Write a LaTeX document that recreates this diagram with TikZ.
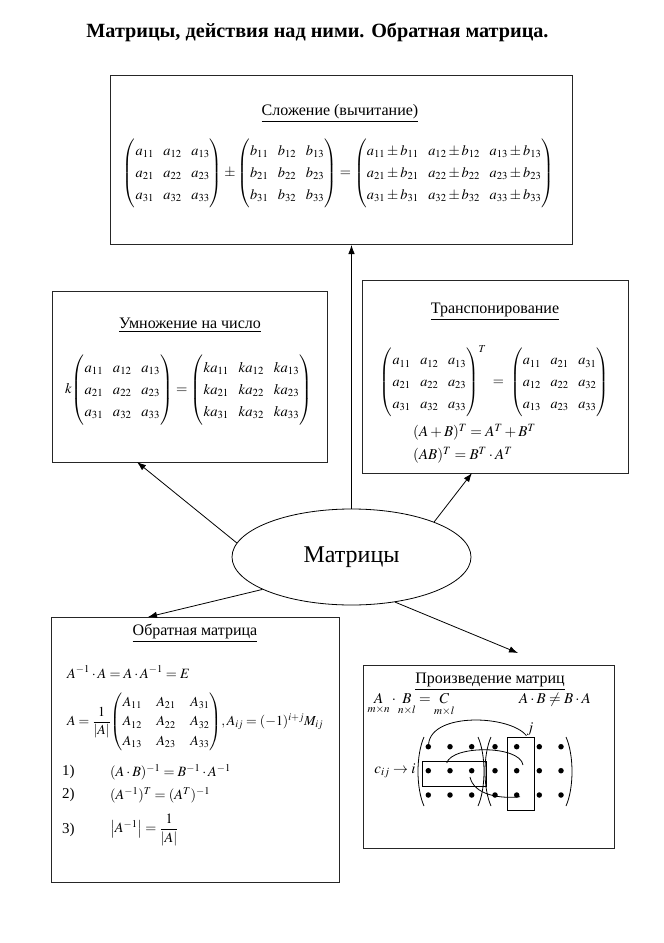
\documentclass[tikz,border=0pt]{standalone}
\usepackage{amsmath}
\usepackage{graphicx}
\usepackage{mathptmx}
\usepackage[no-math]{fontspec}
\setmainfont{Liberation Serif}
\usetikzlibrary{arrows.meta,shapes.geometric}
\newcommand{\matset}{\setlength{\arraycolsep}{5pt}\renewcommand{\arraystretch}{1.27}}
\newcommand{\matsetB}{\setlength{\arraycolsep}{8pt}\renewcommand{\arraystretch}{1.2}}
\begin{document}
\begin{tikzpicture}[x=1pt,y=-1pt,
  box/.style={draw=black!85, line width=1.1pt, inner sep=0pt, anchor=north west},
  arr/.style={-{Latex[length=9pt,width=6.5pt]}, line width=0.8pt},
  hd/.style={font=\fontsize{16}{19}\selectfont, inner sep=0pt},
  tx/.style={font=\fontsize{15}{18}\selectfont, inner sep=0pt},
  txs/.style={font=\fontsize{14.2}{17}\selectfont, inner sep=0pt},
  dot/.style={circle, fill=black, inner sep=0pt, minimum size=5.5pt},
  thin/.style={line width=0.8pt}]
\useasboundingbox (0,0) rectangle (664,943);
\fill[white] (0,0) rectangle (664,943);

\node[font=\bfseries\fontsize{20.2}{24}\selectfont, inner sep=0pt] (title) at (317.5,32) {Матрицы, действия над ними. Обратная матрица.};

% boxes
\node[box, minimum width=462pt, minimum height=169pt] (add) at (110,75) {};
\node[box, minimum width=275pt, minimum height=171pt] (mul) at (52,291) {};
\node[box, minimum width=266pt, minimum height=193pt] (tr) at (362,280) {};
\node[box, minimum width=288pt, minimum height=265pt] (inv) at (51,617) {};
\node[box, minimum width=251pt, minimum height=183pt] (prod) at (363,665) {};

% ellipse
\node[ellipse, draw, line width=0.8pt, minimum width=239pt, minimum height=96pt, inner sep=0pt,
  font=\fontsize{24}{28}\selectfont] (mat) at (351.5,557) {Матрицы};

% arrows
\coordinate (tAdd) at (351.5,245);
\coordinate (tMul) at (137,462);
\coordinate (tTr) at (472,473);
\coordinate (tInv) at (148,617);
\coordinate (tProd) at (518,653);
\draw[arr] (mat.north) -- (tAdd);
\draw[arr] (mat.173) -- (tMul);
\draw[arr] (mat.23) -- (tTr);
\draw[arr] (mat.200) -- (tInv);
\draw[arr] (mat.314) -- (tProd);

% addition
\node[hd] (addh) at (340,113) {\underline{Сложение (вычитание)}};
\node[tx] (addf) at (338.5,173) {\resizebox{431pt}{!}{\matset$\begin{pmatrix}a_{11}&a_{12}&a_{13}\\a_{21}&a_{22}&a_{23}\\a_{31}&a_{32}&a_{33}\end{pmatrix}\pm
\begin{pmatrix}b_{11}&b_{12}&b_{13}\\b_{21}&b_{22}&b_{23}\\b_{31}&b_{32}&b_{33}\end{pmatrix}=
\begin{pmatrix}a_{11}\pm b_{11}&a_{12}\pm b_{12}&a_{13}\pm b_{13}\\a_{21}\pm b_{21}&a_{22}\pm b_{22}&a_{23}\pm b_{23}\\a_{31}\pm b_{31}&a_{32}\pm b_{32}&a_{33}\pm b_{33}\end{pmatrix}$}};

% multiplication by number
\node[hd] (mulh) at (190,325) {\underline{Умножение на число}};
\node[tx] (mulf) at (188.5,390) {\resizebox{247pt}{!}{\matset$k\!\begin{pmatrix}a_{11}&a_{12}&a_{13}\\a_{21}&a_{22}&a_{23}\\a_{31}&a_{32}&a_{33}\end{pmatrix}=
\begin{pmatrix}ka_{11}&ka_{12}&ka_{13}\\ka_{21}&ka_{22}&ka_{23}\\ka_{31}&ka_{32}&ka_{33}\end{pmatrix}$}};

% transposition
\node[hd] (trh) at (495,312) {\underline{Транспонирование}};
\node[tx] (trf) at (494.5,381) {\resizebox{229pt}{!}{\matset$\begin{pmatrix}a_{11}&a_{12}&a_{13}\\a_{21}&a_{22}&a_{23}\\a_{31}&a_{32}&a_{33}\end{pmatrix}^{T}\;=\;
\begin{pmatrix}a_{11}&a_{21}&a_{31}\\a_{12}&a_{22}&a_{32}\\a_{13}&a_{23}&a_{33}\end{pmatrix}$}};
\node[tx, anchor=west] (tr1) at (413,432) {$(A+B)^{T}=A^{T}+B^{T}$};
\node[tx, anchor=west] (tr2) at (413,455) {$(AB)^{T}=B^{T}\cdot A^{T}$};

% inverse
\node[hd] (invh) at (195,633) {\underline{Обратная матрица}};
\node[txs, anchor=west] (inv1) at (67,672) {$A^{-1}\cdot A=A\cdot A^{-1}=E$};
\node[tx, anchor=west] (inv2) at (67,722) {\resizebox{256pt}{!}{\matsetB$A=\dfrac{1}{|A|}\!\begin{pmatrix}A_{11}&A_{21}&A_{31}\\A_{12}&A_{22}&A_{32}\\A_{13}&A_{23}&A_{33}\end{pmatrix}\!,A_{ij}=(-1)^{i+j}M_{ij}$}};
\node[tx, anchor=west] (n1) at (62,772) {1)};
\node[txs, anchor=west] (inv3) at (110,772) {$(A\cdot B)^{-1}=B^{-1}\cdot A^{-1}$};
\node[tx, anchor=west] (n2) at (62,795) {2)};
\node[txs, anchor=west] (inv4) at (110,795) {$(A^{-1})^{T}=(A^{T})^{-1}$};
\node[tx, anchor=west] (n3) at (62,830) {3)};
\node[txs, anchor=west] (inv5) at (110,830) {$\left|A^{-1}\right|=\dfrac{1}{|A|}$};

% product
\node[hd] (prh) at (490,682) {\underline{Произведение матриц}};
\node[tx] (pr1) at (411,705) {$\underset{m\times n}{A}\cdot\underset{n\times l}{B}=\underset{m\times l}{C}$};
\node[tx] (pr2) at (555,700) {$A\cdot B\neq B\cdot A$};
\node[tx] (cij) at (395,771) {$c_{ij}\to i$};

% dots
\foreach \x [count=\c] in {428.3,450,471.7,495,516.7,539.3,561}{
  \foreach \y [count=\r] in {746.7,770.7,795}{
    \node[dot] (d\r\c) at (\x,\y) {};
  }
}
% parentheses
\draw[thin] (424,737) .. controls (416,755) and (416,788) .. (424,806);
\draw[thin] (478,737) .. controls (486,755) and (486,788) .. (478,806);
\draw[thin] (491,737) .. controls (483,755) and (483,788) .. (491,806);
\draw[thin] (566,737) .. controls (574,755) and (574,788) .. (566,806);
% rectangles
\node[draw, thin, inner sep=0pt, minimum width=63.7pt, minimum height=25pt, anchor=north west] (rowr) at (422.3,761) {};
\node[draw, thin, inner sep=0pt, minimum width=27.6pt, minimum height=72.7pt, anchor=north west] (colr) at (506.7,737.3) {};
\node[tx] (jl) at (530,729) {$j$};
% arcs
\draw[thin] (d11) .. controls (432,712) and (510,715) .. (jl.south west);
\draw[thin] (446.7,763) .. controls (452,745) and (520,745) .. (523,765);
\draw[thin] (470,777) .. controls (474,795) and (500,799) .. (520,796.7);
\end{tikzpicture}
\end{document}
